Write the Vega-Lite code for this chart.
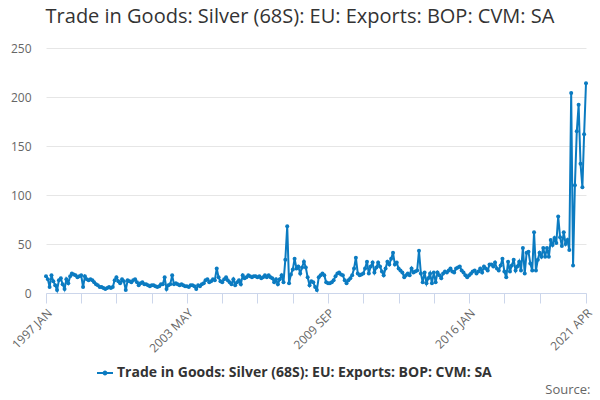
{
  "$schema": "https://vega.github.io/schema/vega-lite/v6.json",
  "autosize": {"type": "none"},
  "padding": {"left": 46, "top": 48, "right": 14, "bottom": 107},
  "width": 540,
  "height": 245,
  "background": "white",
  "config": {"font": "Open Sans", "view": {"stroke": null}},
  "title": {
    "text": "Trade in Goods: Silver (68S): EU: Exports: BOP: CVM: SA",
    "anchor": "middle",
    "dx": -16,
    "offset": 15,
    "fontSize": 20,
    "fontWeight": "normal",
    "color": "#333333"
  },
  "data": {
    "values": [
      {"month": "1997-01", "value": 17}, {"month": "1997-02", "value": 14}, {"month": "1997-03", "value": 6}, {"month": "1997-04", "value": 18},
      {"month": "1997-05", "value": 12}, {"month": "1997-06", "value": 8}, {"month": "1997-07", "value": 3}, {"month": "1997-08", "value": 13},
      {"month": "1997-09", "value": 15}, {"month": "1997-10", "value": 9}, {"month": "1997-11", "value": 4}, {"month": "1997-12", "value": 14},
      {"month": "1998-01", "value": 10}, {"month": "1998-02", "value": 17}, {"month": "1998-03", "value": 20}, {"month": "1998-04", "value": 19},
      {"month": "1998-05", "value": 18}, {"month": "1998-06", "value": 16}, {"month": "1998-07", "value": 17}, {"month": "1998-08", "value": 18},
      {"month": "1998-09", "value": 6}, {"month": "1998-10", "value": 17}, {"month": "1998-11", "value": 14}, {"month": "1998-12", "value": 13},
      {"month": "1999-01", "value": 14}, {"month": "1999-02", "value": 13}, {"month": "1999-03", "value": 11}, {"month": "1999-04", "value": 9},
      {"month": "1999-05", "value": 8}, {"month": "1999-06", "value": 6}, {"month": "1999-07", "value": 6}, {"month": "1999-08", "value": 5},
      {"month": "1999-09", "value": 4}, {"month": "1999-10", "value": 5}, {"month": "1999-11", "value": 6}, {"month": "1999-12", "value": 5},
      {"month": "2000-01", "value": 6}, {"month": "2000-02", "value": 13}, {"month": "2000-03", "value": 16}, {"month": "2000-04", "value": 12},
      {"month": "2000-05", "value": 10}, {"month": "2000-06", "value": 14}, {"month": "2000-07", "value": 12}, {"month": "2000-08", "value": 3},
      {"month": "2000-09", "value": 13}, {"month": "2000-10", "value": 12}, {"month": "2000-11", "value": 11}, {"month": "2000-12", "value": 13},
      {"month": "2001-01", "value": 14}, {"month": "2001-02", "value": 11}, {"month": "2001-03", "value": 8}, {"month": "2001-04", "value": 10},
      {"month": "2001-05", "value": 11}, {"month": "2001-06", "value": 9}, {"month": "2001-07", "value": 9}, {"month": "2001-08", "value": 8},
      {"month": "2001-09", "value": 7}, {"month": "2001-10", "value": 8}, {"month": "2001-11", "value": 8}, {"month": "2001-12", "value": 7},
      {"month": "2002-01", "value": 6}, {"month": "2002-02", "value": 7}, {"month": "2002-03", "value": 9}, {"month": "2002-04", "value": 9},
      {"month": "2002-05", "value": 16}, {"month": "2002-06", "value": 4}, {"month": "2002-07", "value": 8}, {"month": "2002-08", "value": 9},
      {"month": "2002-09", "value": 18}, {"month": "2002-10", "value": 9}, {"month": "2002-11", "value": 10}, {"month": "2002-12", "value": 9},
      {"month": "2003-01", "value": 8}, {"month": "2003-02", "value": 9}, {"month": "2003-03", "value": 8}, {"month": "2003-04", "value": 7},
      {"month": "2003-05", "value": 7}, {"month": "2003-06", "value": 6}, {"month": "2003-07", "value": 8}, {"month": "2003-08", "value": 8},
      {"month": "2003-09", "value": 7}, {"month": "2003-10", "value": 4}, {"month": "2003-11", "value": 8}, {"month": "2003-12", "value": 7},
      {"month": "2004-01", "value": 9}, {"month": "2004-02", "value": 10}, {"month": "2004-03", "value": 13}, {"month": "2004-04", "value": 14},
      {"month": "2004-05", "value": 11}, {"month": "2004-06", "value": 12}, {"month": "2004-07", "value": 14}, {"month": "2004-08", "value": 13},
      {"month": "2004-09", "value": 25}, {"month": "2004-10", "value": 16}, {"month": "2004-11", "value": 12}, {"month": "2004-12", "value": 11},
      {"month": "2005-01", "value": 14}, {"month": "2005-02", "value": 16}, {"month": "2005-03", "value": 13}, {"month": "2005-04", "value": 11},
      {"month": "2005-05", "value": 9}, {"month": "2005-06", "value": 14}, {"month": "2005-07", "value": 8}, {"month": "2005-08", "value": 11},
      {"month": "2005-09", "value": 13}, {"month": "2005-10", "value": 9}, {"month": "2005-11", "value": 18}, {"month": "2005-12", "value": 15},
      {"month": "2006-01", "value": 16}, {"month": "2006-02", "value": 18}, {"month": "2006-03", "value": 17}, {"month": "2006-04", "value": 16},
      {"month": "2006-05", "value": 17}, {"month": "2006-06", "value": 17}, {"month": "2006-07", "value": 16}, {"month": "2006-08", "value": 17},
      {"month": "2006-09", "value": 15}, {"month": "2006-10", "value": 16}, {"month": "2006-11", "value": 18}, {"month": "2006-12", "value": 16},
      {"month": "2007-01", "value": 18}, {"month": "2007-02", "value": 16}, {"month": "2007-03", "value": 15}, {"month": "2007-04", "value": 11},
      {"month": "2007-05", "value": 14}, {"month": "2007-06", "value": 9}, {"month": "2007-07", "value": 14}, {"month": "2007-08", "value": 18},
      {"month": "2007-09", "value": 11}, {"month": "2007-10", "value": 34}, {"month": "2007-11", "value": 68}, {"month": "2007-12", "value": 10},
      {"month": "2008-01", "value": 19}, {"month": "2008-02", "value": 24}, {"month": "2008-03", "value": 35}, {"month": "2008-04", "value": 25},
      {"month": "2008-05", "value": 27}, {"month": "2008-06", "value": 20}, {"month": "2008-07", "value": 26}, {"month": "2008-08", "value": 32},
      {"month": "2008-09", "value": 26}, {"month": "2008-10", "value": 16}, {"month": "2008-11", "value": 8}, {"month": "2008-12", "value": 12},
      {"month": "2009-01", "value": 11}, {"month": "2009-02", "value": 6}, {"month": "2009-03", "value": 3}, {"month": "2009-04", "value": 16},
      {"month": "2009-05", "value": 18}, {"month": "2009-06", "value": 20}, {"month": "2009-07", "value": 18}, {"month": "2009-08", "value": 11},
      {"month": "2009-09", "value": 10}, {"month": "2009-10", "value": 10}, {"month": "2009-11", "value": 11}, {"month": "2009-12", "value": 13},
      {"month": "2010-01", "value": 17}, {"month": "2010-02", "value": 20}, {"month": "2010-03", "value": 21}, {"month": "2010-04", "value": 19},
      {"month": "2010-05", "value": 18}, {"month": "2010-06", "value": 13}, {"month": "2010-07", "value": 10}, {"month": "2010-08", "value": 13},
      {"month": "2010-09", "value": 15}, {"month": "2010-10", "value": 18}, {"month": "2010-11", "value": 25}, {"month": "2010-12", "value": 36},
      {"month": "2011-01", "value": 20}, {"month": "2011-02", "value": 18}, {"month": "2011-03", "value": 19}, {"month": "2011-04", "value": 20},
      {"month": "2011-05", "value": 25}, {"month": "2011-06", "value": 32}, {"month": "2011-07", "value": 20}, {"month": "2011-08", "value": 27},
      {"month": "2011-09", "value": 31}, {"month": "2011-10", "value": 21}, {"month": "2011-11", "value": 26}, {"month": "2011-12", "value": 31},
      {"month": "2012-01", "value": 27}, {"month": "2012-02", "value": 22}, {"month": "2012-03", "value": 18}, {"month": "2012-04", "value": 25},
      {"month": "2012-05", "value": 32}, {"month": "2012-06", "value": 29}, {"month": "2012-07", "value": 35}, {"month": "2012-08", "value": 41},
      {"month": "2012-09", "value": 29}, {"month": "2012-10", "value": 31}, {"month": "2012-11", "value": 25}, {"month": "2012-12", "value": 23},
      {"month": "2013-01", "value": 21}, {"month": "2013-02", "value": 16}, {"month": "2013-03", "value": 18}, {"month": "2013-04", "value": 20},
      {"month": "2013-05", "value": 18}, {"month": "2013-06", "value": 25}, {"month": "2013-07", "value": 21}, {"month": "2013-08", "value": 22},
      {"month": "2013-09", "value": 23}, {"month": "2013-10", "value": 43}, {"month": "2013-11", "value": 20}, {"month": "2013-12", "value": 11},
      {"month": "2014-01", "value": 21}, {"month": "2014-02", "value": 10}, {"month": "2014-03", "value": 15}, {"month": "2014-04", "value": 20},
      {"month": "2014-05", "value": 10}, {"month": "2014-06", "value": 21}, {"month": "2014-07", "value": 11}, {"month": "2014-08", "value": 21},
      {"month": "2014-09", "value": 18}, {"month": "2014-10", "value": 15}, {"month": "2014-11", "value": 20}, {"month": "2014-12", "value": 22},
      {"month": "2015-01", "value": 21}, {"month": "2015-02", "value": 23}, {"month": "2015-03", "value": 25}, {"month": "2015-04", "value": 22},
      {"month": "2015-05", "value": 21}, {"month": "2015-06", "value": 25}, {"month": "2015-07", "value": 26}, {"month": "2015-08", "value": 27},
      {"month": "2015-09", "value": 23}, {"month": "2015-10", "value": 21}, {"month": "2015-11", "value": 18}, {"month": "2015-12", "value": 16},
      {"month": "2016-01", "value": 18}, {"month": "2016-02", "value": 20}, {"month": "2016-03", "value": 22}, {"month": "2016-04", "value": 23},
      {"month": "2016-05", "value": 20}, {"month": "2016-06", "value": 22}, {"month": "2016-07", "value": 25}, {"month": "2016-08", "value": 21},
      {"month": "2016-09", "value": 27}, {"month": "2016-10", "value": 25}, {"month": "2016-11", "value": 23}, {"month": "2016-12", "value": 29},
      {"month": "2017-01", "value": 29}, {"month": "2017-02", "value": 27}, {"month": "2017-03", "value": 31}, {"month": "2017-04", "value": 25},
      {"month": "2017-05", "value": 23}, {"month": "2017-06", "value": 28}, {"month": "2017-07", "value": 35}, {"month": "2017-08", "value": 22},
      {"month": "2017-09", "value": 16}, {"month": "2017-10", "value": 32}, {"month": "2017-11", "value": 22}, {"month": "2017-12", "value": 28},
      {"month": "2018-01", "value": 34}, {"month": "2018-02", "value": 23}, {"month": "2018-03", "value": 27}, {"month": "2018-04", "value": 32},
      {"month": "2018-05", "value": 23}, {"month": "2018-06", "value": 46}, {"month": "2018-07", "value": 20}, {"month": "2018-08", "value": 41},
      {"month": "2018-09", "value": 42}, {"month": "2018-10", "value": 30}, {"month": "2018-11", "value": 23}, {"month": "2018-12", "value": 62},
      {"month": "2019-01", "value": 23}, {"month": "2019-02", "value": 34}, {"month": "2019-03", "value": 41}, {"month": "2019-04", "value": 37},
      {"month": "2019-05", "value": 46}, {"month": "2019-06", "value": 37}, {"month": "2019-07", "value": 46}, {"month": "2019-08", "value": 37},
      {"month": "2019-09", "value": 54}, {"month": "2019-10", "value": 49}, {"month": "2019-11", "value": 56}, {"month": "2019-12", "value": 51},
      {"month": "2020-01", "value": 78}, {"month": "2020-02", "value": 57}, {"month": "2020-03", "value": 48}, {"month": "2020-04", "value": 62},
      {"month": "2020-05", "value": 50}, {"month": "2020-06", "value": 54}, {"month": "2020-07", "value": 44}, {"month": "2020-08", "value": 204},
      {"month": "2020-09", "value": 28}, {"month": "2020-10", "value": 110}, {"month": "2020-11", "value": 165}, {"month": "2020-12", "value": 192},
      {"month": "2021-01", "value": 132}, {"month": "2021-02", "value": 108}, {"month": "2021-03", "value": 162}, {"month": "2021-04", "value": 214}
    ]
  },
  "mark": {
    "type": "line",
    "strokeWidth": 2,
    "point": {"filled": true, "size": 16}
  },
  "encoding": {
    "x": {
      "field": "month",
      "type": "temporal",
      "scale": {"type": "utc", "domain": ["1997-01-01", "2021-04-01"], "nice": false},
      "axis": {
        "title": "Source:",
        "titleAnchor": "end",
        "titleAlign": "right",
        "titleBaseline": "middle",
        "titleX": 544,
        "titleY": 96,
        "titleColor": "#666666",
        "titleFontSize": 13,
        "titleFontWeight": "normal",
        "values": [
          {"year": 1997, "month": 1, "utc": true}, {"year": 1998, "month": 8, "utc": true},
          {"year": 2000, "month": 3, "utc": true}, {"year": 2001, "month": 10, "utc": true},
          {"year": 2003, "month": 5, "utc": true}, {"year": 2004, "month": 12, "utc": true},
          {"year": 2006, "month": 7, "utc": true}, {"year": 2008, "month": 2, "utc": true},
          {"year": 2009, "month": 9, "utc": true}, {"year": 2011, "month": 4, "utc": true},
          {"year": 2012, "month": 11, "utc": true}, {"year": 2014, "month": 6, "utc": true},
          {"year": 2016, "month": 1, "utc": true}, {"year": 2017, "month": 8, "utc": true},
          {"year": 2019, "month": 3, "utc": true}, {"year": 2021, "month": 4, "utc": true}
        ],
        "labelExpr": "indexof(['1997 JAN', '2003 MAY', '2009 SEP', '2016 JAN', '2021 APR'], upper(utcFormat(datum.value, '%Y %b'))) >= 0 ? upper(utcFormat(datum.value, '%Y %b')) : ''",
        "labelAngle": -45,
        "labelAlign": "right",
        "labelBaseline": "top",
        "labelOverlap": false,
        "labelBound": false,
        "labelFlush": false,
        "labelColor": "#666666",
        "labelFontSize": 12,
        "labelPadding": 4,
        "grid": false,
        "domainColor": "#ccd6eb",
        "tickColor": "#ccd6eb",
        "tickSize": 10
      }
    },
    "y": {
      "field": "value",
      "type": "quantitative",
      "scale": {"domain": [0, 250], "nice": false},
      "axis": {
        "title": null,
        "values": [0, 50, 100, 150, 200, 250],
        "domain": false,
        "ticks": false,
        "gridColor": "#e6e6e6",
        "labelColor": "#666666",
        "labelFontSize": 12,
        "labelPadding": 15
      }
    },
    "color": {
      "datum": "Trade in Goods: Silver (68S): EU: Exports: BOP: CVM: SA",
      "type": "nominal",
      "scale": {"range": ["#0b7bc1"]},
      "legend": {
        "title": null,
        "orient": "none",
        "legendX": 51,
        "legendY": 317,
        "labelFontSize": 14,
        "labelFontWeight": "bold",
        "labelColor": "#333333",
        "labelLimit": 500,
        "symbolType": "M -1 -0.12 L 1 -0.12 L 1 0.12 L -1 0.12 Z M 0.3 0 A 0.3 0.3 0 1 1 -0.3 0 A 0.3 0.3 0 1 1 0.3 0 Z",
        "symbolSize": 256,
        "encode": {
          "symbols": {"update": {"fill": {"value": "#0b7bc1"}, "strokeWidth": {"value": 0}}}
        }
      }
    }
  }
}
